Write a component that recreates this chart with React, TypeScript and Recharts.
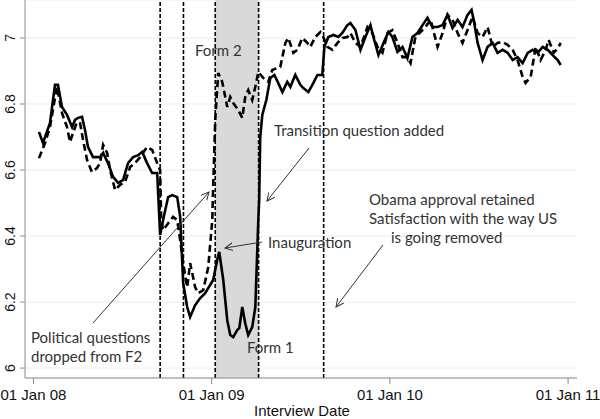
import React from 'react';
import {
  LineChart,
  Line,
  XAxis,
  YAxis,
  CartesianGrid,
  ReferenceLine,
  ReferenceArea,
} from 'recharts';

// x = months since 01 Jan 2008
const form1: [number, number][] = [
  [0.37, 6.715], [0.64, 6.682], [1.11, 6.742], [1.45, 6.858], [1.65, 6.858], [1.92, 6.791],
  [2.26, 6.767], [2.6, 6.73], [2.8, 6.752], [3.0, 6.758], [3.27, 6.761], [3.47, 6.721],
  [3.67, 6.67], [4.01, 6.639], [4.48, 6.639], [4.69, 6.652], [5.02, 6.621], [5.36, 6.579],
  [5.7, 6.561], [6.04, 6.57], [6.37, 6.621], [6.71, 6.639], [7.05, 6.645], [7.32, 6.655],
  [7.65, 6.621], [7.99, 6.591], [8.33, 6.591], [8.53, 6.403], [8.8, 6.464], [9.07, 6.518],
  [9.34, 6.524], [9.68, 6.518], [9.88, 6.458], [10.08, 6.258], [10.35, 6.185], [10.55, 6.155],
  [10.89, 6.191], [11.23, 6.212], [11.56, 6.227], [12.1, 6.267], [12.37, 6.327], [12.51, 6.352],
  [12.78, 6.267], [13.05, 6.145], [13.25, 6.1], [13.45, 6.094], [13.72, 6.115], [13.86, 6.121],
  [14.06, 6.185], [14.26, 6.136], [14.46, 6.1], [14.73, 6.124], [14.94, 6.185], [15.14, 6.449],
  [15.2, 6.51], [15.27, 6.7], [15.41, 6.767], [15.68, 6.812], [15.95, 6.879], [16.22, 6.888],
  [16.48, 6.864], [16.76, 6.836], [17.09, 6.867], [17.3, 6.852], [17.63, 6.888], [17.97, 6.858],
  [18.17, 6.848], [18.51, 6.836], [18.85, 6.864], [19.12, 6.888], [19.45, 6.888], [19.59, 6.973],
  [19.86, 7.003], [20.2, 7.009], [20.53, 7.003], [20.8, 7.015], [21.14, 7.039], [21.34, 7.045],
  [21.68, 7.024], [22.02, 6.964], [22.35, 7.003], [22.69, 7.039], [22.89, 7.003], [23.23, 6.948],
  [23.57, 6.985], [23.9, 7.018], [24.17, 7.003], [24.51, 6.958], [24.85, 6.973], [25.18, 6.939],
  [25.52, 7.003], [25.86, 7.015], [26.2, 7.039], [26.53, 7.061], [26.87, 7.033], [27.21, 7.033],
  [27.55, 7.039], [27.88, 7.07], [28.22, 7.03], [28.56, 7.055], [28.89, 7.033], [29.23, 7.07],
  [29.5, 7.085], [29.64, 7.055], [29.91, 6.985], [30.24, 6.933], [30.58, 6.973], [30.92, 6.985],
  [31.25, 6.955], [31.59, 6.964], [31.93, 6.955], [32.27, 6.933], [32.6, 6.942], [32.94, 6.924],
  [33.28, 6.955], [33.61, 6.964], [33.95, 6.955], [34.29, 6.973], [34.63, 6.964], [34.96, 6.948],
  [35.3, 6.933], [35.5, 6.918],
];

const form2: [number, number][] = [
  [0.37, 6.636], [0.78, 6.682], [1.11, 6.73], [1.58, 6.852], [1.92, 6.773], [2.26, 6.73],
  [2.46, 6.685], [2.66, 6.712], [2.93, 6.745], [3.14, 6.742], [3.34, 6.691], [3.61, 6.63],
  [3.94, 6.594], [4.28, 6.606], [4.48, 6.621], [4.69, 6.676], [4.96, 6.652], [5.16, 6.6],
  [5.5, 6.539], [5.83, 6.555], [6.17, 6.564], [6.51, 6.609], [6.84, 6.621], [7.18, 6.639],
  [7.65, 6.67], [7.99, 6.661], [8.33, 6.621], [8.53, 6.6], [8.6, 6.448], [8.73, 6.418],
  [9.07, 6.439], [9.4, 6.458], [9.68, 6.448], [9.88, 6.388], [10.08, 6.318], [10.35, 6.245],
  [10.55, 6.318], [10.89, 6.245], [11.09, 6.227], [11.43, 6.236], [11.77, 6.306], [12.04, 6.448],
  [12.1, 6.548], [12.24, 6.752], [12.44, 6.894], [12.71, 6.867], [13.05, 6.791], [13.25, 6.821],
  [13.45, 6.803], [13.79, 6.782], [14.06, 6.758], [14.26, 6.821], [14.46, 6.842], [14.73, 6.812],
  [14.94, 6.852], [15.14, 6.897], [15.47, 6.879], [15.81, 6.867], [16.08, 6.903], [16.42, 6.909],
  [16.62, 6.912], [16.96, 6.985], [17.16, 7.0], [17.5, 6.955], [17.77, 6.964], [18.1, 7.0],
  [18.44, 6.985], [18.64, 6.973], [18.98, 7.003], [19.32, 7.018], [19.52, 7.003], [19.79, 6.973],
  [20.13, 6.964], [20.47, 6.985], [20.8, 7.0], [21.14, 7.003], [21.34, 7.015], [21.68, 6.985],
  [22.02, 6.973], [22.49, 7.033], [22.82, 7.015], [23.16, 6.973], [23.5, 6.955], [23.84, 7.015],
  [24.17, 7.024], [24.51, 6.985], [24.85, 6.942], [25.18, 6.942], [25.39, 6.924], [25.72, 7.003],
  [26.06, 7.018], [26.4, 7.033], [26.74, 7.055], [27.21, 6.973], [27.55, 7.015], [27.88, 7.07],
  [28.22, 7.055], [28.56, 7.015], [28.89, 6.985], [29.23, 7.024], [29.57, 7.064], [29.91, 7.015],
  [30.24, 7.003], [30.58, 7.033], [30.92, 6.973], [31.25, 6.985], [31.59, 6.988], [31.93, 6.979],
  [32.27, 6.964], [32.6, 6.933], [32.94, 6.882], [33.14, 6.864], [33.48, 6.882], [33.82, 6.973],
  [34.15, 6.933], [34.49, 6.964], [34.69, 6.994], [35.03, 6.955], [35.37, 6.973], [35.5, 6.985],
];

const xTicks = [0, 12, 24, 36];
const xTickLabels = ['01 Jan 08', '01 Jan 09', '01 Jan 10', '01 Jan 11'];
const yTicks = [6, 6.2, 6.4, 6.6, 6.8, 7];
const changeDates = [8.53, 10.1, 12.24, 15.16, 19.54];
const form2Window = [12.24, 15.16];

const solidData = form1.map(([m, v]) => ({ m, v }));
const dashedData = form2.map(([m, v]) => ({ m, v }));

const W = 600;
const H = 419;
const noteFont = 'Lato, "Open Sans", sans-serif';
const axisFont = '"Liberation Sans", Arial, sans-serif';

const YTick = (props: any) => {
  const { y, payload } = props;
  return (
    <text
      x={10}
      y={y}
      transform={`rotate(-90, 10, ${y})`}
      textAnchor="middle"
      dominantBaseline="central"
      fontSize={14}
      fontFamily={axisFont}
      fill="#111"
    >
      {payload.value}
    </text>
  );
};

const XTick = (props: any) => {
  const { x, y, payload } = props;
  const i = xTicks.indexOf(payload.value);
  return (
    <text
      x={x}
      y={y + 14}
      textAnchor="middle"
      fontSize={15}
      fontFamily={axisFont}
      fill="#111"
    >
      {xTickLabels[i]}
    </text>
  );
};

export default function App() {
  return (
    <div style={{ position: 'absolute', left: 0, top: 0, width: W, height: H, background: '#fff' }}>
      <LineChart width={W} height={H} margin={{ top: 0, right: 23, bottom: 0, left: 0 }}>
        <ReferenceArea
          x1={form2Window[0]}
          x2={form2Window[1]}
          fill="#d9d9d9"
          fillOpacity={1}
          stroke="none"
          ifOverflow="visible"
        />
        <CartesianGrid vertical={false} stroke="#ececec" />
        <XAxis
          type="number"
          dataKey="m"
          domain={[-0.57, 36.6]}
          ticks={xTicks}
          tick={<XTick />}
          tickSize={6}
          stroke="#8c8c8c"
          allowDataOverflow
          height={41}
        />
        <YAxis
          type="number"
          domain={[5.97, 7.115]}
          ticks={yTicks}
          tick={<YTick />}
          tickSize={5}
          stroke="#8c8c8c"
          width={25}
          allowDataOverflow
        />
        {changeDates.map((d) => (
          <ReferenceLine key={d} x={d} stroke="#000" strokeWidth={1.6} strokeDasharray="4 2" />
        ))}
        <Line
          data={solidData}
          dataKey="v"
          type="linear"
          stroke="#000"
          strokeWidth={2.6}
          dot={false}
          isAnimationActive={false}
        />
        <Line
          data={dashedData}
          dataKey="v"
          type="linear"
          stroke="#000"
          strokeWidth={2.6}
          strokeDasharray="7 4"
          dot={false}
          isAnimationActive={false}
        />
      </LineChart>
      <svg
        width={W}
        height={H}
        style={{ position: 'absolute', left: 0, top: 0, pointerEvents: 'none' }}
      >
        <defs>
          <marker id="arr" markerWidth="10" markerHeight="10" refX="8" refY="4" orient="auto" markerUnits="userSpaceOnUse">
            <path d="M0,0 L8,4 L0,8" fill="none" stroke="#333" strokeWidth={1} />
          </marker>
        </defs>
        <g stroke="#333" strokeWidth={1} fill="none">
          <line x1={93} y1={323} x2={209} y2={192} markerEnd="url(#arr)" />
          <line x1={309} y1={148} x2={267} y2={201} markerEnd="url(#arr)" />
          <line x1={262} y1={242} x2={225} y2={248} markerEnd="url(#arr)" />
          <line x1={383} y1={245} x2={336} y2={307} markerEnd="url(#arr)" />
        </g>
        <g fontFamily={noteFont} fontSize={15} fill="#333" dominantBaseline="central">
          <text x={195} y={50}>Form 2</text>
          <text x={274} y={130}>Transition question added</text>
          <text x={268} y={242}>Inauguration</text>
          <text x={247} y={347}>Form 1</text>
          <text x={369} y={199}>Obama approval retained</text>
          <text x={369} y={218}>Satisfaction with the way US</text>
          <text x={391} y={237}>is going removed</text>
          <text x={31} y={337}>Political questions</text>
          <text x={31} y={356}>dropped from F2</text>
        </g>
        <text
          x={302}
          y={410}
          textAnchor="middle"
          dominantBaseline="central"
          fontFamily={axisFont}
          fontSize={15}
          fill="#111"
        >
          Interview Date
        </text>
      </svg>
    </div>
  );
}
